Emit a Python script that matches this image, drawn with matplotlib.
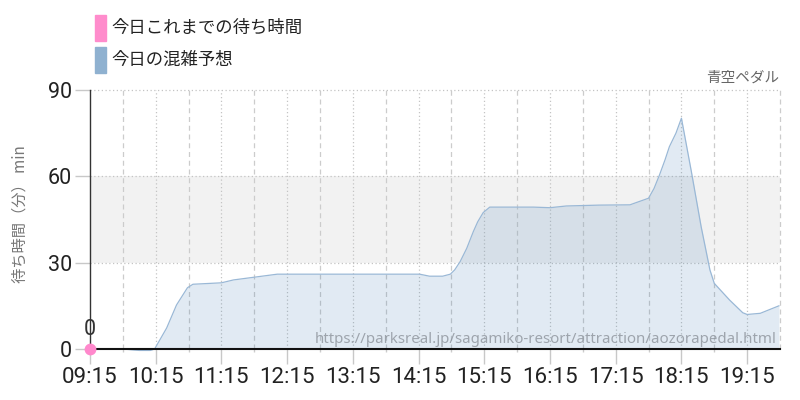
import matplotlib
matplotlib.use("Agg")
import matplotlib.pyplot as plt
from matplotlib.patches import Rectangle

CJK = ["Noto Sans CJK JP", "DejaVu Sans"]
NUM = ["Liberation Sans Narrow", "Roboto", "DejaVu Sans"]

title = "青空ペダル"
legend_labels = ["今日これまでの待ち時間", "今日の混雑予想"]
legend_colors = ["#ff8ccc", "#8fb1d0"]
ylabel = "待ち時間（分） min"
url_text = "https://parksreal.jp/sagamiko-resort/attraction/aozorapedal.html"

tick_labels = ["09:15", "10:15", "11:15", "12:15", "13:15", "14:15",
               "15:15", "16:15", "17:15", "18:15", "19:15"]
yticks = [0, 30, 60, 90]
x_end = "19:45"

forecast_times = ["09:15", "09:45", "10:00", "10:10", "10:14", "10:25", "10:34",
                  "10:44", "10:49", "11:15", "11:26", "11:46", "12:06", "14:16",
                  "14:25", "14:37", "14:44", "14:48", "14:53", "14:59", "15:05",
                  "15:09", "15:14", "15:20", "16:00", "16:15", "16:30", "17:00",
                  "17:28", "17:45", "17:50", "17:55", "18:00", "18:04", "18:10",
                  "18:15", "18:24", "18:33", "18:41", "18:45", "18:59", "19:11",
                  "19:15", "19:27", "19:44"]
forecast_values = [0, 0, -0.5, -0.5, 0, 7.3, 15.3,
                   21.3, 22.5, 23, 24, 25, 26, 26,
                   25.3, 25.3, 26, 27.5, 30.4, 35, 40.8,
                   44.2, 47.4, 49.3, 49.3, 49.1, 49.7, 50,
                   50.1, 52.4, 55.8, 60.5, 65.7, 70.3, 75,
                   80.2, 61.8, 42.5, 27.5, 22.8, 17, 12.6,
                   12, 12.4, 15]

actual_times = ["09:15"]
actual_values = [0]


def to_min(s):
    h, m = map(int, s.split(":"))
    return h * 60 + m - (9 * 60 + 15)


fig = plt.figure(figsize=(8, 4), dpi=100)
ax = fig.add_axes([90 / 800, 51 / 400, 690 / 800, 259 / 400])
ax.set_xlim(0, to_min(x_end))
ax.set_ylim(0, 90)

ax.axhspan(30, 60, color="#f2f2f2", zorder=0, lw=0)
for v in yticks[1:]:
    ax.axhline(v, color="#c4c4c4", lw=0.9, ls=(0, (1, 2)), zorder=1, clip_on=False)

hour_pos = [to_min(t) for t in tick_labels]
half_pos = [p + 30 for p in hour_pos]
for p in hour_pos[1:]:
    ax.axvline(p, color="#c4c4c4", lw=0.9, ls=(0, (1, 2)), zorder=1)
for p in half_pos:
    ax.axvline(p, color="#cccccc", lw=0.9, ls=(0, (4, 3)), zorder=1, clip_on=False)

fx = [to_min(t) for t in forecast_times]
ax.fill_between(fx, forecast_values, 0, color="#3a78b0", alpha=0.15, lw=0,
                zorder=2, clip_on=False)
ax.plot(fx, forecast_values, color="#9ab8d6", lw=0.9, zorder=3, clip_on=False)

ax.plot([to_min(t) for t in actual_times], actual_values, "o", color="#ff88cc",
        ms=8.5, mec="none", clip_on=False, zorder=6)
for t, v in zip(actual_times, actual_values):
    ax.annotate(str(v), (to_min(t), v), xytext=(0, 14), textcoords="offset points",
                ha="center", va="center", fontsize=15.5, family=NUM, color="#333333")

for s in ["top", "right"]:
    ax.spines[s].set_visible(False)
ax.spines["bottom"].set_color("#111111")
ax.spines["bottom"].set_linewidth(1.5)
ax.spines["left"].set_color("#333333")
ax.spines["left"].set_linewidth(1)
ax.spines["bottom"].set_zorder(4)

ax.set_xticks(hour_pos)
ax.set_xticklabels(tick_labels)
ax.set_xticks(half_pos[:-1], minor=True)
ax.tick_params(axis="x", which="major", length=10.8, width=1, color="#c8c8c8",
               pad=2, labelsize=16, labelcolor="#222222")
ax.tick_params(axis="x", which="minor", length=2, width=1, color="#cccccc")
ax.set_yticks(yticks)
ax.set_yticklabels([str(v) for v in yticks])
ax.tick_params(axis="y", length=10.8, width=1, color="#c8c8c8", pad=2,
               labelsize=15.5, labelcolor="#222222")
for lbl in ax.get_xticklabels() + ax.get_yticklabels():
    lbl.set_family(NUM)

# legend
for i, (lab, col) in enumerate(zip(legend_labels, legend_colors)):
    top = 15 + i * 32
    fig.patches.append(Rectangle((95 / 800, 1 - (top + 26) / 400), 11 / 800, 26 / 400,
                                 transform=fig.transFigure, color=col))
    fig.text(111 / 800, 1 - (top + 13) / 400, lab, ha="left", va="center",
             fontsize=12.5, color="#222222", family=CJK)

fig.text(20.5 / 800, 1 - 214 / 400, ylabel, rotation=90, ha="center", va="center",
         fontsize=11, color="#777777", family=CJK)
fig.text(779 / 800, 1 - 78 / 400, title, ha="right", va="center",
         fontsize=10.5, color="#666666", family=CJK)
fig.text(777 / 800, 1 - 343 / 400, url_text, ha="right", va="baseline",
         fontsize=10.8, color="#878d95", alpha=0.75, family=["Noto Sans", "DejaVu Sans"])

fig.savefig("out.png", dpi=100)
